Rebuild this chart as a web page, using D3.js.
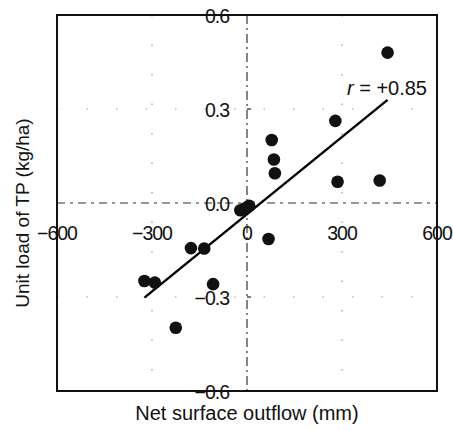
<!DOCTYPE html>
<html>
<head>
<meta charset="utf-8">
<script src="https://cdn.jsdelivr.net/npm/d3@7"></script>
<style>
  body { margin: 0; background: #fff; }
  svg text { font-family: "Liberation Sans", Arial, sans-serif; fill: #111; }
</style>
</head>
<body>
<div id="chart"></div>
<script>
// net surface outflow (mm) vs unit load of TP (kg/ha)
const outflow = [444, 279, 78, 85, 88, 286, 419, -21, 7, -8, 68, -177, -135, -107, -324, -291, -225];
const tpLoad  = [0.48, 0.262, 0.201, 0.139, 0.095, 0.068, 0.072, -0.023, -0.009, -0.018, -0.115, -0.144, -0.145, -0.259, -0.249, -0.254, -0.398];
const fitX = [-324, 444];
const fitY = [-0.302, 0.329];
const xTicks = [-600, -300, 0, 300, 600];
const yTicks = [-0.6, -0.3, 0.0, 0.3, 0.6];

const width = 453, height = 430;
const margin = {left: 57, right: 16, top: 15, bottom: 39};

const svg = d3.select('#chart').append('svg')
  .attr('width', width)
  .attr('height', height);

const x = d3.scaleLinear().domain([-600, 600]).range([margin.left, width - margin.right]);
const y = d3.scaleLinear().domain([-0.6, 0.6]).range([height - margin.bottom, margin.top]);

const fmtY = d => d === 0 ? '0.0' : d3.format('.1f')(d).replace('-', '\u2212');
const fmtX = d => String(d).replace('-', '\u2212');

// faint dotted grid at +/-300 and +/-0.3
const grid = svg.append('g').attr('stroke', '#999').attr('stroke-width', 1.2)
  .attr('stroke-dasharray', '1.5,28');
[-300, 300].forEach(v => {
  grid.append('line').attr('x1', x(v)).attr('x2', x(v)).attr('y1', y(0.6)).attr('y2', y(-0.6));
});
[-0.3, 0.3].forEach(v => {
  grid.append('line').attr('x1', x(-600)).attr('x2', x(600)).attr('y1', y(v)).attr('y2', y(v));
});

// zero lines
svg.append('line')
  .attr('x1', x(-600)).attr('x2', x(600)).attr('y1', y(0)).attr('y2', y(0))
  .attr('stroke', '#333').attr('stroke-width', 1.2).attr('stroke-dasharray', '8,5,3,5');
svg.append('line')
  .attr('x1', x(0)).attr('x2', x(0)).attr('y1', y(0.6)).attr('y2', y(-0.6))
  .attr('stroke', '#333').attr('stroke-width', 1.2).attr('stroke-dasharray', '9,4,2,4');

// small ticks on the center axis
svg.append('g').selectAll('line')
  .data(yTicks.filter(d => Math.abs(d) === 0.3))
  .join('line')
  .attr('x1', x(0)).attr('x2', x(0) + 4)
  .attr('y1', d => y(d)).attr('y2', d => y(d))
  .attr('stroke', '#222').attr('stroke-width', 1.2);

// frame
svg.append('rect')
  .attr('x', x(-600)).attr('y', y(0.6))
  .attr('width', x(600) - x(-600)).attr('height', y(-0.6) - y(0.6))
  .attr('fill', 'none').attr('stroke', '#111').attr('stroke-width', 2);

// tick labels
svg.append('g').selectAll('text')
  .data(yTicks)
  .join('text')
  .attr('x', x(0) - 18)
  .attr('y', d => y(d) + 8)
  .attr('text-anchor', 'end')
  .attr('font-size', 19.5)
  .attr('letter-spacing', -1)
  .text(fmtY);

svg.append('g').selectAll('text')
  .data(xTicks)
  .join('text')
  .attr('x', d => x(d))
  .attr('y', y(0) + 37)
  .attr('text-anchor', 'middle')
  .attr('font-size', 19.5)
  .attr('letter-spacing', -1)
  .text(fmtX);

// regression line
svg.append('line')
  .attr('x1', x(fitX[0])).attr('y1', y(fitY[0]))
  .attr('x2', x(fitX[1])).attr('y2', y(fitY[1]))
  .attr('stroke', '#000').attr('stroke-width', 2.4);

// points
svg.append('g').selectAll('circle')
  .data(outflow.map((d, i) => ({x: d, y: tpLoad[i]})))
  .join('circle')
  .attr('cx', d => x(d.x))
  .attr('cy', d => y(d.y))
  .attr('r', 6.3)
  .attr('fill', '#111');

// r label
const rl = svg.append('text')
  .attr('x', 427).attr('y', 95)
  .attr('text-anchor', 'end')
  .attr('font-size', 20);
rl.append('tspan').attr('font-style', 'italic').text('r');
rl.append('tspan').text(' = +0.85');

// axis titles
svg.append('text')
  .attr('x', x(0)).attr('y', 420)
  .attr('text-anchor', 'middle')
  .attr('font-size', 20)
  .text('Net surface outflow (mm)');

svg.append('text')
  .attr('transform', `translate(29, ${y(0) + 10}) rotate(-90)`)
  .attr('text-anchor', 'middle')
  .attr('font-size', 19)
  .text('Unit load of TP (kg/ha)');
</script>
</body>
</html>
